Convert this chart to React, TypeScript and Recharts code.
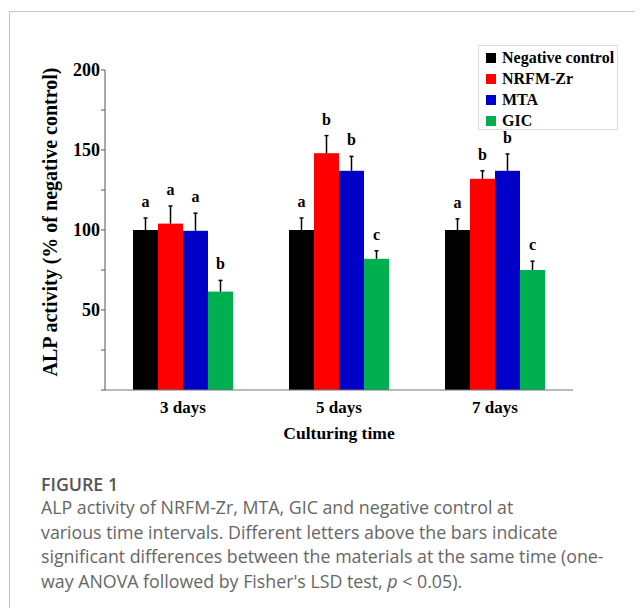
import { Bar, BarChart, XAxis, YAxis } from "recharts";

const categories = ["3 days", "5 days", "7 days"];

const negativeControl = [100, 100, 100];
const negativeControlErr = [7.5, 7.5, 7];
const negativeControlLetters = ["a", "a", "a"];

const nrfmZr = [104, 148, 132];
const nrfmZrErr = [11, 11, 5];
const nrfmZrLetters = ["a", "b", "b"];

const mta = [99.5, 137, 137];
const mtaErr = [11, 9, 10.5];
const mtaLetters = ["a", "b", "b"];

const gic = [61.5, 82, 75];
const gicErr = [7, 5, 5.5];
const gicLetters = ["b", "c", "c"];

const yTicks = [0, 25, 50, 75, 100, 125, 150, 175, 200];

const series = [
  { key: "neg", name: "Negative control", color: "#000000" },
  { key: "nrfm", name: "NRFM-Zr", color: "#ff0000" },
  { key: "mta", name: "MTA", color: "#0000c8" },
  { key: "gic", name: "GIC", color: "#00b050" },
];

const data = categories.map((day, i) => ({
  day,
  neg: negativeControl[i],
  negErr: negativeControlErr[i],
  negLetter: negativeControlLetters[i],
  nrfm: nrfmZr[i],
  nrfmErr: nrfmZrErr[i],
  nrfmLetter: nrfmZrLetters[i],
  mta: mta[i],
  mtaErr: mtaErr[i],
  mtaLetter: mtaLetters[i],
  gic: gic[i],
  gicErr: gicErr[i],
  gicLetter: gicLetters[i],
}));

if (typeof document !== "undefined") {
  document.body.style.overflow = "hidden";
}

const serif = "'Liberation Serif', 'Times New Roman', serif";

// bar + one-sided error whisker + significance letter
function makeBarShape(key: string) {
  return (props: any) => {
    const { x, y, width, height, fill, payload } = props;
    const value = payload[key];
    const pxPerUnit = value ? height / value : 0;
    const cx = x + width / 2;
    const top = y - payload[key + "Err"] * pxPerUnit;
    return (
      <g>
        <rect x={x} y={y} width={width} height={height} fill={fill} />
        <line x1={cx} y1={y} x2={cx} y2={top} stroke="#000" strokeWidth={1.5} />
        <line x1={cx - 2} y1={top} x2={cx + 2} y2={top} stroke="#000" strokeWidth={1.5} />
        <text
          x={cx}
          y={top - 11}
          textAnchor="middle"
          fontFamily={serif}
          fontWeight="bold"
          fontSize={16}
          fill="#000"
        >
          {payload[key + "Letter"]}
        </text>
      </g>
    );
  };
}

function LegendBox() {
  return (
    <div
      style={{
        position: "absolute",
        left: 470,
        top: 37,
        border: "1px solid #dcdcdc",
        width: 140,
        height: 85,
        boxSizing: "border-box",
        paddingTop: 1,
        fontFamily: serif,
        fontWeight: "bold",
        fontSize: 16,
        background: "#fff",
      }}
    >
      {series.map((s) => (
        <div key={s.key} style={{ display: "flex", alignItems: "center", height: 21, paddingLeft: 7 }}>
          <span
            style={{ width: 10, height: 10, background: s.color, marginRight: 6, display: "inline-block" }}
          />
          <span style={{ color: "#000" }}>{s.name}</span>
        </div>
      ))}
    </div>
  );
}

export default function App() {
  return (
    <div style={{ position: "relative", width: 627, height: 600 }}>
      <div
        style={{
          position: "absolute",
          left: 1,
          top: 3,
          width: 640,
          height: 600,
          borderTop: "1px solid #c4c4c4",
          borderLeft: "1px solid #c4c4c4",
        }}
      />
      <div style={{ position: "absolute", left: 0, top: 0 }}>
        <BarChart
          width={627}
          height={440}
          data={data}
          margin={{ top: 62, right: 62, bottom: 0, left: 0 }}
          barSize={25}
          barGap={0}
        >
          <XAxis
            dataKey="day"
            height={58}
            tickLine={false}
            tickSize={0}
            tickMargin={11}
            axisLine={{ stroke: "#777" }}
            tick={{ fontFamily: serif, fontWeight: "bold", fontSize: 17, fill: "#000" }}
            label={{
              content: () => (
                <text
                  x={331}
                  y={431}
                  textAnchor="middle"
                  fontFamily={serif}
                  fontWeight="bold"
                  fontSize={17.5}
                  fill="#000"
                >
                  Culturing time
                </text>
              ),
            }}
          />
          <YAxis
            width={97}
            domain={[0, 200]}
            ticks={yTicks}
            interval={0}
            tickSize={4}
            tickMargin={1}
            axisLine={{ stroke: "#555" }}
            tickLine={{ stroke: "#555" }}
            tickFormatter={(v: number) => (v > 0 && v % 50 === 0 ? String(v) : "")}
            tick={{ fontFamily: serif, fontWeight: "bold", fontSize: 18, fill: "#000" }}
            label={{
              content: () => (
                <text
                  x={0}
                  y={0}
                  transform="translate(42, 214) rotate(-90)"
                  textAnchor="middle"
                  dominantBaseline="central"
                  fontFamily={serif}
                  fontWeight="bold"
                  fontSize={20}
                  fill="#000"
                >
                  ALP activity (% of negative control)
                </text>
              ),
            }}
          />
          {series.map((s) => (
            <Bar
              key={s.key}
              dataKey={s.key}
              name={s.name}
              fill={s.color}
              isAnimationActive={false}
              shape={makeBarShape(s.key)}
            />
          ))}
        </BarChart>
      </div>
      <LegendBox />
      <div
        style={{
          position: "absolute",
          left: 33,
          top: 465,
          fontFamily: "'Open Sans', sans-serif",
          fontSize: 17.8,
          fontWeight: 400,
          lineHeight: "24.5px",
          color: "#666666",
          whiteSpace: "nowrap",
        }}
      >
        <div style={{ lineHeight: "22px", color: "#555", fontWeight: 600 }}>FIGURE 1</div>
        <div>ALP activity of NRFM-Zr, MTA, GIC and negative control at</div>
        <div>various time intervals. Different letters above the bars indicate</div>
        <div>significant differences between the materials at the same time (one-</div>
        <div>
          way ANOVA followed by Fisher's LSD test, <i>p</i> &lt; 0.05).
        </div>
      </div>
    </div>
  );
}
